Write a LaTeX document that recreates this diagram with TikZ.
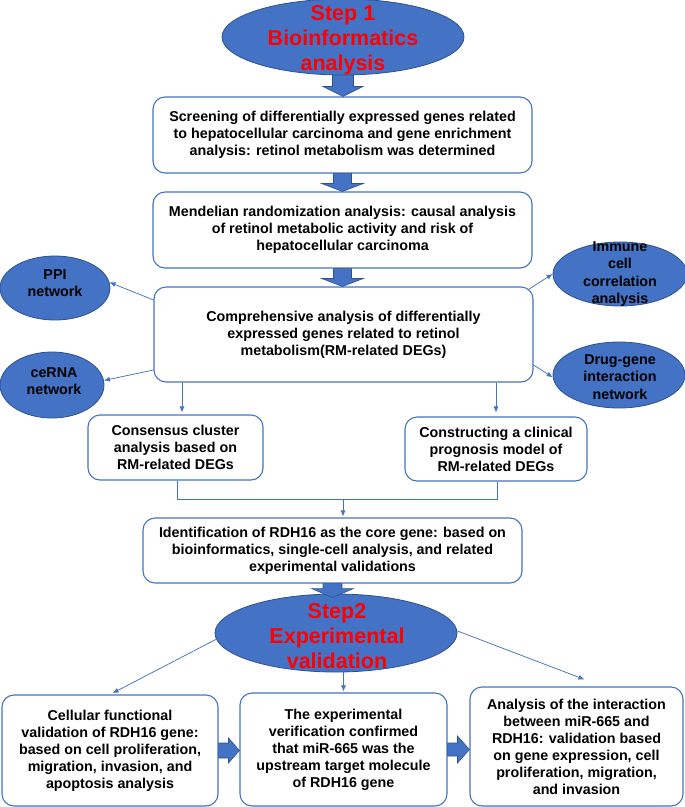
\documentclass[tikz,border=0pt]{standalone}
\usepackage{fontspec}
\setmainfont{Liberation Sans}
\usetikzlibrary{calc,arrows.meta,shapes.geometric}
\definecolor{obl}{HTML}{4472C4}
\definecolor{odk}{HTML}{2F528F}
\definecolor{ored}{HTML}{FF0000}
\tikzset{
 box/.style={draw=obl, line width=1.1pt, rounded corners=12pt, fill=white, align=center, inner sep=0pt, font=\fontsize{14.3}{17}\selectfont\bfseries, text=black},
 oval/.style={ellipse, draw=odk, line width=0.8pt, fill=obl, inner sep=0pt},
 ovaltext/.style={align=center, inner sep=0pt, font=\fontsize{14.3}{17.5}\selectfont\bfseries},
 bigtext/.style={align=center, inner sep=0pt, text=ored, font=\fontsize{21.5}{25}\selectfont\bfseries},
 link/.style={draw=obl, line width=0.75pt, -{Latex[length=6pt,width=5pt]}},
 plainlink/.style={draw=obl, line width=0.9pt},
 blockarrow/.style={fill=obl, draw=odk, line width=0.6pt},
}
\newcommand\blkdown[5]{%
 \path[blockarrow] let \p1=(#1), \p2=(#2) in
 (\x1-#3pt,\y1) -- (\x1+#3pt,\y1) -- (\x1+#3pt,\y2+#5pt) -- (\x1+#4pt,\y2+#5pt)
 -- (\x1,\y2) -- (\x1-#4pt,\y2+#5pt) -- (\x1-#3pt,\y2+#5pt) -- cycle;}
\newcommand\blkright[5]{%
 \path[blockarrow] let \p1=(#1), \p2=(#2) in
 (\x1,\y1+#3pt) -- (\x2-#5pt,\y1+#3pt) -- (\x2-#5pt,\y1+#4pt) -- (\x2,\y1)
 -- (\x2-#5pt,\y1-#4pt) -- (\x2-#5pt,\y1-#3pt) -- (\x1,\y1-#3pt) -- cycle;}
\begin{document}
\begin{tikzpicture}[x=1pt,y=-1pt]
\useasboundingbox (0,0) rectangle (685,807);
\fill[white] (0,0) rectangle (685,807);

% ellipses
\node[oval, minimum width=242pt, minimum height=76pt] (e1) at (343,37) {};
\node[bigtext] (e1t) at (343,40) {Step 1\\Bioinformatics\\analysis};

\node[oval, minimum width=110pt, minimum height=64pt] (ppi) at (55,288) {};
\node[ovaltext] (ppit) at (55,283) {PPI\\network};
\node[oval, minimum width=104pt, minimum height=66pt] (cerna) at (52,385) {};
\node[ovaltext] (cernat) at (54,381) {ceRNA\\network};
\node[oval, minimum width=134pt, minimum height=64pt] (imm) at (620,274) {};
\node[ovaltext] (immt) at (620,274) {Immune\\cell\\correlation\\analysis};
\node[oval, minimum width=132pt, minimum height=66pt] (drug) at (619,375) {};
\node[ovaltext] (drugt) at (620,377) {Drug-gene\\interaction\\network};

\node[oval, minimum width=242pt, minimum height=78pt] (e2) at (336,633) {};
\node[bigtext] (e2t) at (337,636) {Step2\\Experimental\\validation};

% boxes
\node[box, minimum width=379pt, minimum height=76pt] (b1) at (342.5,135)
 {Screening of differentially expressed genes related\\to hepatocellular carcinoma and gene enrichment\\analysis: retinol metabolism was determined};
\node[box, minimum width=379pt, minimum height=76pt] (b2) at (342.5,230)
 {Mendelian randomization analysis: causal analysis\\of retinol metabolic activity and risk of\\hepatocellular carcinoma};
\node[box, minimum width=379pt, minimum height=95pt] (b3) at (343.5,334.5)
 {Comprehensive analysis of differentially\\expressed genes related to retinol\\metabolism(RM-related DEGs)};
\node[box, minimum width=175pt, minimum height=65pt] (bl) at (175.5,447.5)
 {Consensus cluster\\analysis based on\\RM-related DEGs};
\node[box, minimum width=182pt, minimum height=64pt] (br) at (496,449)
 {Constructing a clinical\\prognosis model of\\RM-related DEGs};
\node[box, minimum width=379pt, minimum height=65pt] (b4) at (332.5,550.5)
 {Identification of RDH16 as the core gene: based on\\bioinformatics, single-cell analysis, and related\\experimental validations};
\node[box, minimum width=216pt, minimum height=111pt] (bA) at (110,750.5)
 {Cellular functional\\validation of RDH16 gene:\\based on cell proliferation,\\migration, invasion, and\\apoptosis analysis};
\node[box, minimum width=207pt, minimum height=113pt] (bB) at (343.5,749.5)
 {The experimental\\verification confirmed\\that miR-665 was the\\upstream target molecule\\of RDH16 gene};
\node[box, minimum width=213pt, minimum height=119pt] (bC) at (576.5,746.5)
 {Analysis of the interaction\\between miR-665 and\\RDH16: validation based\\on gene expression, cell\\proliferation, migration,\\and invasion};

% block arrows
\blkdown{e1.south}{b1.north}{10.5}{20}{10}
\blkdown{b1.south}{b2.north}{9}{21}{8}
\blkdown{b2.south}{b3.north}{9}{21}{8}
\blkdown{b4.south}{$(b4.south)+(0,14)$}{9.5}{21}{9}
\blkright{bA.east}{bB.west}{7.5}{12.5}{11}
\blkright{bB.east}{bC.west}{6.5}{13.5}{12}

% thin links
\draw[link] (b3.west |- 0,300) -- (ppi.6);
\draw[link] (b3.west |- 0,370) -- (cerna.5);
\draw[link] ($(b3.north east)+(-5,3)$) -- (imm.180);
\draw[link] (b3.east |- 0,365) -- (drug.182);
\draw[link, shorten >=2pt] (b3.south -| 182,0) -- (bl.north -| 182,0);
\draw[link, shorten >=4pt] (b3.south -| br.north) -- (br.north);
\coordinate (j) at (343,499.5);
\draw[plainlink] (bl.south -| 177.5,0) |- (j) -| (br.south -| 497.5,0);
\draw[link, shorten >=1pt] (j) -- (b4.north -| j);
\draw[link, shorten >=3pt] (e2.183) -- (bA.north);
\draw[link, shorten >=1pt] (e2.south -| bB.north) -- (bB.north);
\draw[link] (e2.1) -- ($(bC.north)+(8,-7)$);
\end{tikzpicture}
\end{document}
